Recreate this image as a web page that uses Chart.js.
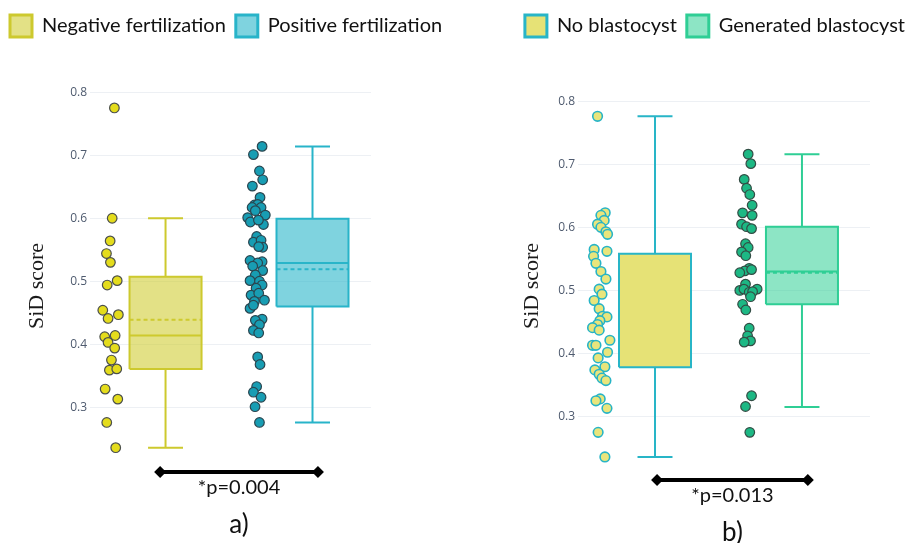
<!DOCTYPE html>
<html>
<head>
<meta charset="utf-8">
<script src="https://cdn.jsdelivr.net/npm/chart.js@4.4.1/dist/chart.umd.min.js"></script>
<style>
  body { margin: 0; background: #fff; overflow: hidden; }
  #wrap { position: relative; width: 907px; height: 543px; overflow: hidden; }
  canvas { position: absolute; top: 0; }
</style>
</head>
<body>
<div id="wrap">
  <canvas id="chartA" width="500" height="543" style="left:0"></canvas>
  <canvas id="chartB" width="462" height="543" style="left:453px"></canvas>
</div>
<script>
// panel a) - fertilization
const fertGroups = ["Negative fertilization", "Positive fertilization"];
const negFertScores = [0.775, 0.600, 0.564, 0.544, 0.530, 0.501, 0.494, 0.454, 0.447, 0.441, 0.412,
  0.414, 0.403, 0.394, 0.375, 0.359, 0.361, 0.329, 0.313, 0.276, 0.236];
const negFertJitter = [0.027, 0.012, -0.002, -0.027, 0, 0.046, -0.022, -0.052, 0.054, -0.016, -0.039,
  0.032, -0.016, 0.029, 0.007, -0.007, 0.043, -0.036, 0.050, -0.025, 0.036];
const posFertScores = [0.714, 0.701, 0.675, 0.661, 0.651, 0.633, 0.621, 0.622, 0.617, 0.617, 0.612,
  0.601, 0.605, 0.594, 0.590, 0.597, 0.571, 0.562, 0.565, 0.554, 0.555, 0.533, 0.531, 0.529, 0.524,
  0.517, 0.510, 0.501, 0.500, 0.494, 0.489, 0.478, 0.481, 0.470, 0.468, 0.457, 0.462, 0.440, 0.438,
  0.431, 0.422, 0.418, 0.380, 0.368, 0.333, 0.324, 0.316, 0.301, 0.276];
const posFertJitter = [0.032, -0.027, 0.014, 0.036, -0.034, 0.018, -0.020, 0.002, -0.036, 0.025, -0.014,
  -0.066, 0.054, -0.048, 0.041, 0.007, -0.005, -0.027, 0.025, 0.036, 0.009, -0.050, 0.032, 0.002, -0.032,
  0.036, -0.014, -0.050, 0.014, 0.032, -0.009, -0.043, 0.009, 0.048, -0.020, -0.050, -0.027, 0.032, -0.014,
  0.014, -0.027, 0.009, 0.002, 0.018, -0.005, -0.027, 0.025, -0.016, 0.014];
const fertQ1 = [0.361, 0.460];
const fertMedian = [0.414, 0.529];
const fertQ3 = [0.507, 0.599];
const fertMean = [0.439, 0.519];
const fertLow = [0.236, 0.276];
const fertHigh = [0.600, 0.714];

// panel b) - blastocyst
const blastGroups = ["No blastocyst", "Generated blastocyst"];
const noBlastScores = [0.776, 0.623, 0.619, 0.611, 0.605, 0.600, 0.593, 0.589, 0.565, 0.562, 0.554,
  0.543, 0.530, 0.518, 0.502, 0.494, 0.484, 0.471, 0.459, 0.458, 0.452, 0.446, 0.441, 0.437, 0.421,
  0.413, 0.413, 0.402, 0.393, 0.379, 0.374, 0.367, 0.361, 0.357, 0.328, 0.325, 0.313, 0.275, 0.236];
const noBlastJitter = [-0.016, 0.036, 0.007, 0.029, -0.016, 0.007, 0.041, 0.052, -0.039, 0.048, -0.043,
  -0.027, 0.007, 0.041, -0.005, 0.014, -0.039, -0.005, 0.018, 0.048, 0, -0.016, -0.050, -0.005, 0.068,
  -0.050, -0.027, 0.052, -0.012, 0.034, -0.034, -0.005, 0.014, 0.041, 0.002, -0.027, 0.048, -0.012, 0.034];
const genBlastScores = [0.716, 0.701, 0.676, 0.662, 0.652, 0.635, 0.623, 0.619, 0.605, 0.601, 0.598,
  0.574, 0.568, 0.561, 0.555, 0.535, 0.531, 0.528, 0.533, 0.510, 0.500, 0.502, 0.497, 0.502, 0.498,
  0.490, 0.478, 0.469, 0.440, 0.428, 0.420, 0.418, 0.333, 0.316, 0.275];
const genBlastJitter = [0.009, 0.027, -0.018, -0.002, 0.020, 0.036, -0.029, 0.036, -0.036, -0.002, 0.032,
  -0.009, 0.009, -0.036, -0.007, 0.016, -0.014, -0.048, 0.032, -0.009, -0.048, -0.020, 0.016, 0.070, 0.039,
  0.025, -0.029, -0.007, 0.016, 0.005, 0.025, -0.018, 0.032, -0.009, 0.020];
const blastQ1 = [0.378, 0.478];
const blastMedian = [0.455, 0.530];
const blastQ3 = [0.558, 0.601];
const blastMean = [0.466, 0.528];
const blastLow = [0.236, 0.315];
const blastHigh = [0.776, 0.716];

const pValueLabels = ["*p=0.004", "*p=0.013"];
const panelLabels = ["a)", "b)"];

const BOX_HALF = 0.245;
const CAP_HALF = 0.119;
const STRIP_OFFSET = -0.375;

function stripDataset(cat, scores, jitter, fill, border, bw) {
  return {
    type: "scatter",
    data: scores.map((v, k) => ({ x: cat + STRIP_OFFSET + jitter[k], y: v })),
    backgroundColor: fill,
    borderColor: border,
    borderWidth: bw,
    pointRadius: 4.8
  };
}

function boxDatasets(cat, label, stroke, fill, q1, med, q3, mean, lo, hi) {
  const l = cat - BOX_HALF, r = cat + BOX_HALF;
  const line = { type: "line", borderColor: stroke, borderWidth: 2, pointRadius: 0, tension: 0, fill: false };
  return [
    Object.assign({}, line, {
      label: label,
      data: [{x: l, y: q1}, {x: r, y: q1}, {x: r, y: q3}, {x: l, y: q3}, {x: l, y: q1}],
      backgroundColor: fill,
      fill: "shape"
    }),
    Object.assign({}, line, { data: [{x: l, y: med}, {x: r, y: med}] }),
    Object.assign({}, line, { data: [{x: l, y: mean}, {x: r, y: mean}], borderDash: [4, 3] }),
    Object.assign({}, line, {
      spanGaps: false,
      data: [
        {x: cat, y: q3}, {x: cat, y: hi}, {x: cat, y: null},
        {x: cat - CAP_HALF, y: hi}, {x: cat + CAP_HALF, y: hi}, {x: cat, y: null},
        {x: cat, y: q1}, {x: cat, y: lo}, {x: cat, y: null},
        {x: cat - CAP_HALF, y: lo}, {x: cat + CAP_HALF, y: lo}
      ]
    })
  ];
}

// extra room under the legend
const legendGap = {
  id: "legendGap",
  beforeLayout(chart) {
    const lg = chart.legend;
    if (!lg || lg._gapPatched) return;
    const fit = lg.fit;
    lg.fit = function () {
      fit.call(this);
      this.height += chart.options.plugins.legendGap.gap;
    };
    lg._gapPatched = true;
  }
};

const pAnnotation = {
  id: "pAnnotation",
  afterDraw(chart) {
    const o = chart.options.plugins.pAnnotation;
    const ctx = chart.ctx;
    const x1 = chart.scales.x.getPixelForValue(o.from);
    const x2 = chart.scales.x.getPixelForValue(o.to);
    ctx.save();
    ctx.strokeStyle = "#000";
    ctx.fillStyle = "#000";
    ctx.lineWidth = 4;
    ctx.beginPath();
    ctx.moveTo(x1, o.barY);
    ctx.lineTo(x2, o.barY);
    ctx.stroke();
    [x1, x2].forEach(x => {
      ctx.beginPath();
      ctx.moveTo(x - 6, o.barY);
      ctx.lineTo(x, o.barY - 6);
      ctx.lineTo(x + 6, o.barY);
      ctx.lineTo(x, o.barY + 6);
      ctx.closePath();
      ctx.fill();
    });
    const mid = (x1 + x2) / 2;
    ctx.textAlign = "center";
    ctx.textBaseline = "middle";
    ctx.fillStyle = "#111";
    ctx.font = "20px Lato";
    ctx.fillText(o.text, mid, o.textY);
    ctx.font = "26px Lato";
    ctx.fillText(o.panel, mid, o.panelY);
    ctx.restore();
  }
};

function legendItems(chart) {
  const base = Chart.defaults.plugins.legend.labels.generateLabels(chart);
  return base.filter(item => !!item.text).map(item => Object.assign(item, { lineWidth: 3 }));
}

function makePanel(id, datasets, cfg) {
  return new Chart(document.getElementById(id), {
    type: "scatter",
    data: { datasets: datasets },
    plugins: [legendGap, pAnnotation],
    options: {
      responsive: false,
      animation: false,
      events: [],
      layout: { padding: { left: 0, right: 0, top: 5, bottom: cfg.bottom } },
      plugins: {
        tooltip: { enabled: false },
        legend: {
          position: "top",
          align: cfg.align,
          labels: {
            boxWidth: 22,
            boxHeight: 22,
            padding: 10,
            color: "#111",
            font: { family: "Lato", size: 20 },
            generateLabels: legendItems
          }
        },
        legendGap: { gap: cfg.legendGap },
        pAnnotation: cfg.annotation
      },
      scales: {
        x: { type: "linear", display: false, min: cfg.xMin, max: cfg.xMax },
        y: {
          type: "linear",
          min: cfg.yMin,
          max: 0.832,
          afterFit: s => { s.width = cfg.axisWidth; },
          afterBuildTicks: s => { s.ticks = s.ticks.filter(t => t.value > 0.25 && t.value < 0.81); },
          grid: { color: "#edf0f4", lineWidth: 1, drawTicks: false },
          border: { display: false },
          ticks: {
            stepSize: 0.1,
            padding: 3,
            color: "#4f5b6f",
            font: { family: "Open Sans", size: 12 },
            callback: v => v.toFixed(1)
          },
          title: {
            display: true,
            text: "SiD score",
            color: "#1a1a1a",
            font: { family: "Liberation Serif", size: 22 },
            padding: { top: cfg.titlePad, bottom: 0 }
          }
        },
        yRight: {
          type: "linear",
          position: "right",
          afterFit: s => { s.width = cfg.rightGap; },
          grid: { display: false },
          border: { display: false },
          ticks: { display: false }
        }
      }
    }
  });
}

const datasetsA = [
  stripDataset(0, negFertScores, negFertJitter, "#e4dc1c", "#4b4f4c", 1.2),
  stripDataset(1, posFertScores, posFertJitter, "#189db3", "#2a4650", 1.2),
  ...boxDatasets(0, fertGroups[0], "#cdc92e", "rgba(207,203,46,0.58)",
    fertQ1[0], fertMedian[0], fertQ3[0], fertMean[0], fertLow[0], fertHigh[0]),
  ...boxDatasets(1, fertGroups[1], "#28b4c9", "rgba(41,181,201,0.6)",
    fertQ1[1], fertMedian[1], fertQ3[1], fertMean[1], fertLow[1], fertHigh[1])
];

const datasetsB = [
  stripDataset(0, noBlastScores, noBlastJitter, "#e9e57c", "#27b4c6", 1.6),
  stripDataset(1, genBlastScores, genBlastJitter, "#1db884", "#334d45", 1.2),
  ...boxDatasets(0, blastGroups[0], "#28b5c7", "#e6e276",
    blastQ1[0], blastMedian[0], blastQ3[0], blastMean[0], blastLow[0], blastHigh[0]),
  ...boxDatasets(1, blastGroups[1], "#2fce95", "rgba(47,207,149,0.55)",
    blastQ1[1], blastMedian[1], blastQ3[1], blastMean[1], blastLow[1], blastHigh[1])
];

makePanel("chartA", datasetsA, {
  align: "start", bottom: 43, yMin: 0.153, xMin: -0.514, xMax: 1.398,
  axisWidth: 90, rightGap: 129, titlePad: 24, legendGap: 25,
  annotation: { from: -0.037, to: 1.037, barY: 472, textY: 488, panelY: 525, text: pValueLabels[0], panel: panelLabels[0] }
});

makePanel("chartB", datasetsB, {
  align: "end", bottom: 52, yMin: 0.182, xMin: -0.524, xMax: 1.463,
  axisWidth: 125, rightGap: 45, titlePad: 66, legendGap: 34,
  annotation: { from: 0.014, to: 1.04, barY: 480, textY: 496, panelY: 533, text: pValueLabels[1], panel: panelLabels[1] }
});
</script>
</body>
</html>
